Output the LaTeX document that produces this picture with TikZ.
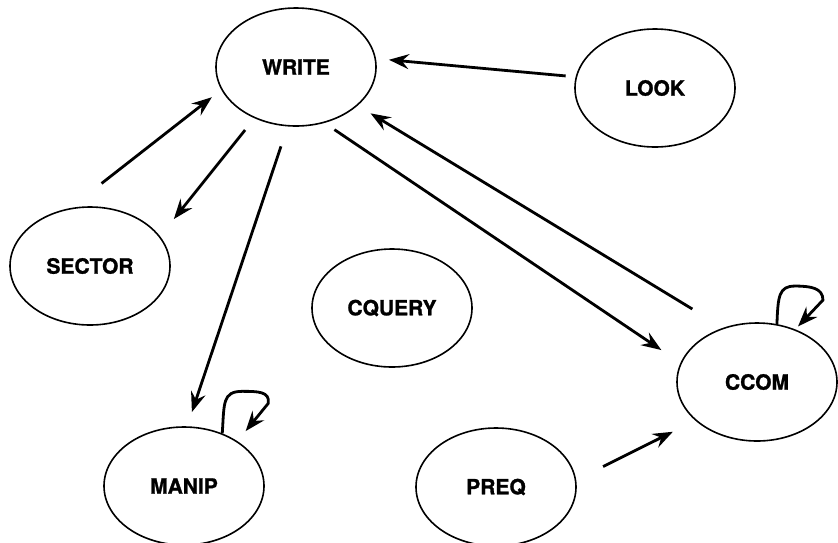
\documentclass[tikz,border=0pt]{standalone}
\usepackage{fontspec}
\setmainfont{TeX Gyre Heros}
\newfontfamily\lblfont{TeX Gyre Heros}[FakeBold=1.2]
\usetikzlibrary{shapes,arrows.meta,positioning}

\begin{document}
\begin{tikzpicture}[x=1pt, y=-1pt,
    proc/.style={ellipse, draw, line width=1.6pt, minimum width=160pt, minimum height=118pt,
        inner sep=0pt, font=\fontsize{21}{25}\lblfont\bfseries},
    arr/.style={line width=2.8pt, -{Stealth[length=20pt, width=15pt, inset=7pt]}}]

    \useasboundingbox (0,0) rectangle (838,542);

    % processes
    \node[proc] (write)  at (296,67)  {WRITE};
    \node[proc] (look)   at (655,88)  {LOOK};
    \node[proc] (sector) at (90,266)  {SECTOR};
    \node[proc] (cquery) at (392,308) {CQUERY};
    \node[proc] (ccom)   at (757,382) {CCOM};
    \node[proc] (manip)  at (184,486) {MANIP};
    \node[proc] (preq)   at (496,487) {PREQ};

    % calls
    \draw[arr, shorten <=10pt, shorten >=13pt] (look.172) -- (write.6);
    \draw[arr, shorten <=40pt, shorten >=12pt] (sector.109) -- (write.197);
    \draw[arr, shorten <=15pt, shorten >=22pt] (write.231) -- (sector.23);
    \draw[arr, shorten <=21pt, shorten >=15pt] (write.262) -- (manip.87);
    \draw[arr, shorten <=12pt, shorten >=23pt] (write.297) -- (ccom.166);
    \draw[arr, shorten <=36pt, shorten >=15pt] (ccom.122) -- (write.328);
    \draw[arr, shorten <=30pt, shorten >=25pt] (preq.5) -- (ccom.212);

    % self calls
    \draw[arr, shorten >=13pt] (manip.54) .. controls +(2,-30) and +(-20,0) .. ++(20,-42)
        .. controls +(15,0) and +(2,-12) .. ++(26,12) -- (manip.40);
    \draw[arr, shorten >=4pt] (ccom.71) .. controls +(1,-28) and +(-16,0) .. ++(18,-38)
        .. controls +(16,0) and +(0,-12) .. ++(28,14) -- (ccom.54);
\end{tikzpicture}
\end{document}
